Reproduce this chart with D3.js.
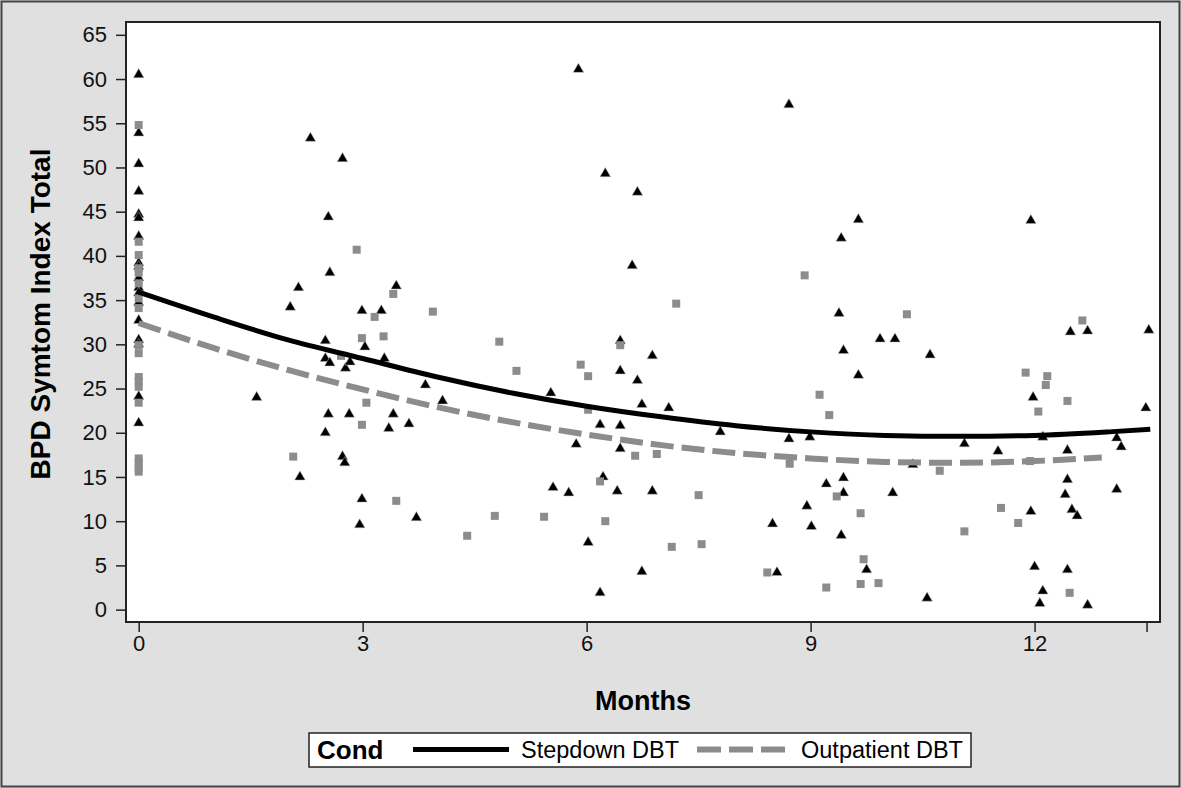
<!DOCTYPE html>
<html>
<head>
<meta charset="utf-8">
<title>BPD Symptom Index by Month</title>
<script src="https://d3js.org/d3.v7.min.js"></script>
<style>
  body { margin: 0; background: #e0e0e0; }
  svg { display: block; font-family: "Liberation Sans", Arial, sans-serif; }
</style>
</head>
<body>
<script>
// Stepdown DBT observations (triangles)
var stepMonths = [0,0,0,0,0,0,0,0,0,0,0,0,0,0,0,0,0,0,
  2.30,2.73,2.54,2.56,2.14,3.45,2.03,2.99,3.25,5.89,6.25,6.68,6.61,8.71,9.64,9.41,9.38,11.95,
  2.50,3.03,2.50,2.56,2.77,2.83,3.29,1.58,2.54,2.82,3.41,3.35,2.50,2.73,2.76,2.16,2.99,2.96,
  6.45,6.88,6.45,6.68,3.84,5.52,4.07,6.74,7.10,3.62,6.18,6.45,5.86,6.45,6.22,5.55,5.76,6.41,6.88,3.72,6.02,6.74,6.18,
  9.93,10.13,9.44,9.64,7.79,8.71,8.99,10.37,9.44,9.21,9.44,10.10,8.95,8.49,9.01,9.41,9.75,8.55,
  12.48,12.71,13.53,10.60,11.98,13.49,11.06,12.11,13.10,13.16,11.51,12.44,12.44,12.41,13.10,11.95,12.50,12.57,12.00,12.44,12.11,12.07,12.71,10.56];
var stepScores = [60.5,53.9,50.4,47.3,44.7,44.3,42.2,39.2,38.8,37.5,36.4,35.8,34.7,32.7,30.5,30.0,24.1,21.1,
  53.3,51.0,44.4,38.1,36.4,36.6,34.2,33.8,33.8,61.1,49.3,47.2,38.9,57.1,44.1,42.0,33.5,44.0,
  30.4,29.7,28.4,27.9,27.3,28.0,28.4,24.0,22.1,22.1,22.1,20.5,20.0,17.3,16.6,15.0,12.5,9.6,
  30.4,28.7,27.0,25.9,25.4,24.5,23.6,23.2,22.8,21.0,20.9,20.8,18.7,18.2,15.0,13.8,13.2,13.4,13.4,10.4,7.6,4.3,1.9,
  30.6,30.6,29.3,26.5,20.1,19.3,19.5,16.4,14.9,14.2,13.2,13.2,11.7,9.7,9.4,8.4,4.5,4.2,
  31.4,31.5,31.6,28.8,24.0,22.8,18.75,19.5,19.4,18.4,17.9,18.0,14.7,13.0,13.6,11.1,11.3,10.6,4.85,4.5,2.1,0.7,0.5,1.3];

// Outpatient DBT observations (squares)
var outMonths = [0,0,0,0,0,0,0,0,0,0,0,0,0,0,0,0,0,0,
  2.92,3.41,3.16,3.94,7.20,8.92,10.29,12.64,
  2.99,3.28,2.71,3.05,2.99,2.07,3.45,
  4.83,6.45,5.92,5.06,6.02,6.02,6.65,6.94,6.18,4.77,5.43,6.25,4.40,7.14,
  9.12,9.25,8.72,9.35,7.50,9.67,7.54,9.71,8.42,9.21,9.67,9.91,
  11.88,12.17,12.15,12.44,12.05,10.73,11.94,11.55,11.78,11.06,12.47];
var outScores = [54.8,41.6,40.1,38.6,38.1,36.9,35.2,34.1,29.9,29.0,26.3,25.8,25.2,23.4,17.1,16.6,16.1,15.6,
  40.7,35.7,33.1,33.7,34.6,37.8,33.4,32.7,
  30.7,30.9,28.7,23.4,20.9,17.3,12.3,
  30.3,29.9,27.7,27.0,26.4,22.6,17.4,17.6,14.5,10.6,10.5,10.0,8.35,7.1,
  24.3,22.0,16.5,12.8,12.95,10.9,7.4,5.7,4.2,2.5,2.9,3.0,
  26.8,26.4,25.4,23.6,22.4,15.7,16.8,11.5,9.8,8.85,1.9];

// fitted curves
var stepFitMonths = [0,1,2,3,4,5,6,7,8,9,10,11,12,13,13.55];
var stepFit = [35.9,33.1,30.5,28.4,26.3,24.5,23.0,21.8,20.8,20.1,19.7,19.6,19.7,20.1,20.4];
var outFitMonths = [0,1,2,3,4,5,6,7,8,9,10,11,12,12.9];
var outFit = [32.4,29.6,27.1,24.9,22.9,21.2,19.8,18.6,17.7,17.1,16.7,16.6,16.8,17.2];

var xTicks = [0,3,6,9,12,13.5];
var yTicks = [0,5,10,15,20,25,30,35,40,45,50,55,60,65];
var legendLabels = ["Stepdown DBT", "Outpatient DBT"];

var width = 1181, height = 788;
var plotL = 126, plotR = 1160, plotT = 22, plotB = 622;
var grey = "#8c8c8c";

var svg = d3.select("body").append("svg")
    .attr("width", width)
    .attr("height", height);

svg.append("rect")
    .attr("x", 1.5).attr("y", 1.5)
    .attr("width", width - 3).attr("height", height - 3)
    .attr("fill", "#e0e0e0")
    .attr("stroke", "#444").attr("stroke-width", 2);

var x = d3.scaleLinear().domain([-0.17, 13.68]).range([plotL, plotR]);
var y = d3.scaleLinear().domain([-1.4, 66.45]).range([plotB, plotT]);

svg.append("rect")
    .attr("x", plotL).attr("y", plotT)
    .attr("width", plotR - plotL).attr("height", plotB - plotT)
    .attr("fill", "white");

// axes
var yAxis = svg.append("g")
    .attr("transform", "translate(" + plotL + ",0)")
    .call(d3.axisLeft(y).tickValues(yTicks).tickSize(10).tickPadding(9));
var xAxis = svg.append("g")
    .attr("transform", "translate(0," + plotB + ")")
    .call(d3.axisBottom(x).tickValues(xTicks).tickSize(10).tickPadding(3)
      .tickFormat(function(d) { return d === 13.5 ? "" : d; }));

[xAxis, yAxis].forEach(function(a) {
  a.select(".domain").remove();
  a.selectAll(".tick line").attr("stroke", "#222").attr("stroke-width", 1.5);
  a.selectAll("text").attr("font-size", "22px").attr("fill", "#111")
    .attr("font-family", "'Liberation Sans', Arial, sans-serif");
});

// markers
var tri = d3.symbol().type(d3.symbolTriangle).size(48);
svg.append("g").selectAll("path")
    .data(stepMonths)
    .enter().append("path")
    .attr("d", tri)
    .attr("transform", function(d, i) { return "translate(" + x(d) + "," + y(stepScores[i]) + ")"; })
    .attr("fill", "black")
    .attr("stroke", "#bbb").attr("stroke-width", 0.5);

svg.append("g").selectAll("rect")
    .data(outMonths)
    .enter().append("rect")
    .attr("x", function(d) { return x(d) - 4; })
    .attr("y", function(d, i) { return y(outScores[i]) - 4; })
    .attr("width", 8).attr("height", 8)
    .attr("fill", grey);

// fitted curves
var line = d3.line().curve(d3.curveMonotoneX)
    .x(function(d) { return x(d[0]); })
    .y(function(d) { return y(d[1]); });

svg.append("path")
    .datum(d3.zip(outFitMonths, outFit))
    .attr("d", line)
    .attr("fill", "none")
    .attr("stroke", grey).attr("stroke-width", 6)
    .attr("stroke-dasharray", "23,8");

svg.append("path")
    .datum(d3.zip(stepFitMonths, stepFit))
    .attr("d", line)
    .attr("fill", "none")
    .attr("stroke", "black").attr("stroke-width", 5);

// frame
svg.append("rect")
    .attr("x", plotL).attr("y", plotT)
    .attr("width", plotR - plotL).attr("height", plotB - plotT)
    .attr("fill", "none")
    .attr("stroke", "#222").attr("stroke-width", 2);

// axis titles
svg.append("text")
    .attr("x", (plotL + plotR) / 2).attr("y", 710)
    .attr("text-anchor", "middle")
    .attr("font-size", "27px").attr("font-weight", "bold")
    .text("Months");

svg.append("text")
    .attr("transform", "translate(50," + ((plotT + plotB) / 2 - 8) + ") rotate(-90)")
    .attr("text-anchor", "middle")
    .attr("font-size", "28px").attr("font-weight", "bold")
    .text("BPD Symtom Index Total");

// legend
var legend = svg.append("g");
legend.append("rect")
    .attr("x", 309).attr("y", 733)
    .attr("width", 662).attr("height", 34)
    .attr("fill", "white")
    .attr("stroke", "#222").attr("stroke-width", 1.5);

legend.append("text")
    .attr("x", 317).attr("y", 759)
    .attr("font-size", "26px").attr("font-weight", "bold")
    .text("Cond");

legend.append("line")
    .attr("x1", 413).attr("x2", 509).attr("y1", 749.5).attr("y2", 749.5)
    .attr("stroke", "black").attr("stroke-width", 5);
legend.append("text")
    .attr("x", 521).attr("y", 758)
    .attr("font-size", "23.5px")
    .text(legendLabels[0]);

legend.append("line")
    .attr("x1", 697).attr("x2", 785).attr("y1", 749.5).attr("y2", 749.5)
    .attr("stroke", grey).attr("stroke-width", 6)
    .attr("stroke-dasharray", "24,8");
legend.append("text")
    .attr("x", 801).attr("y", 758)
    .attr("font-size", "23.5px")
    .text(legendLabels[1]);
</script>
</body>
</html>
